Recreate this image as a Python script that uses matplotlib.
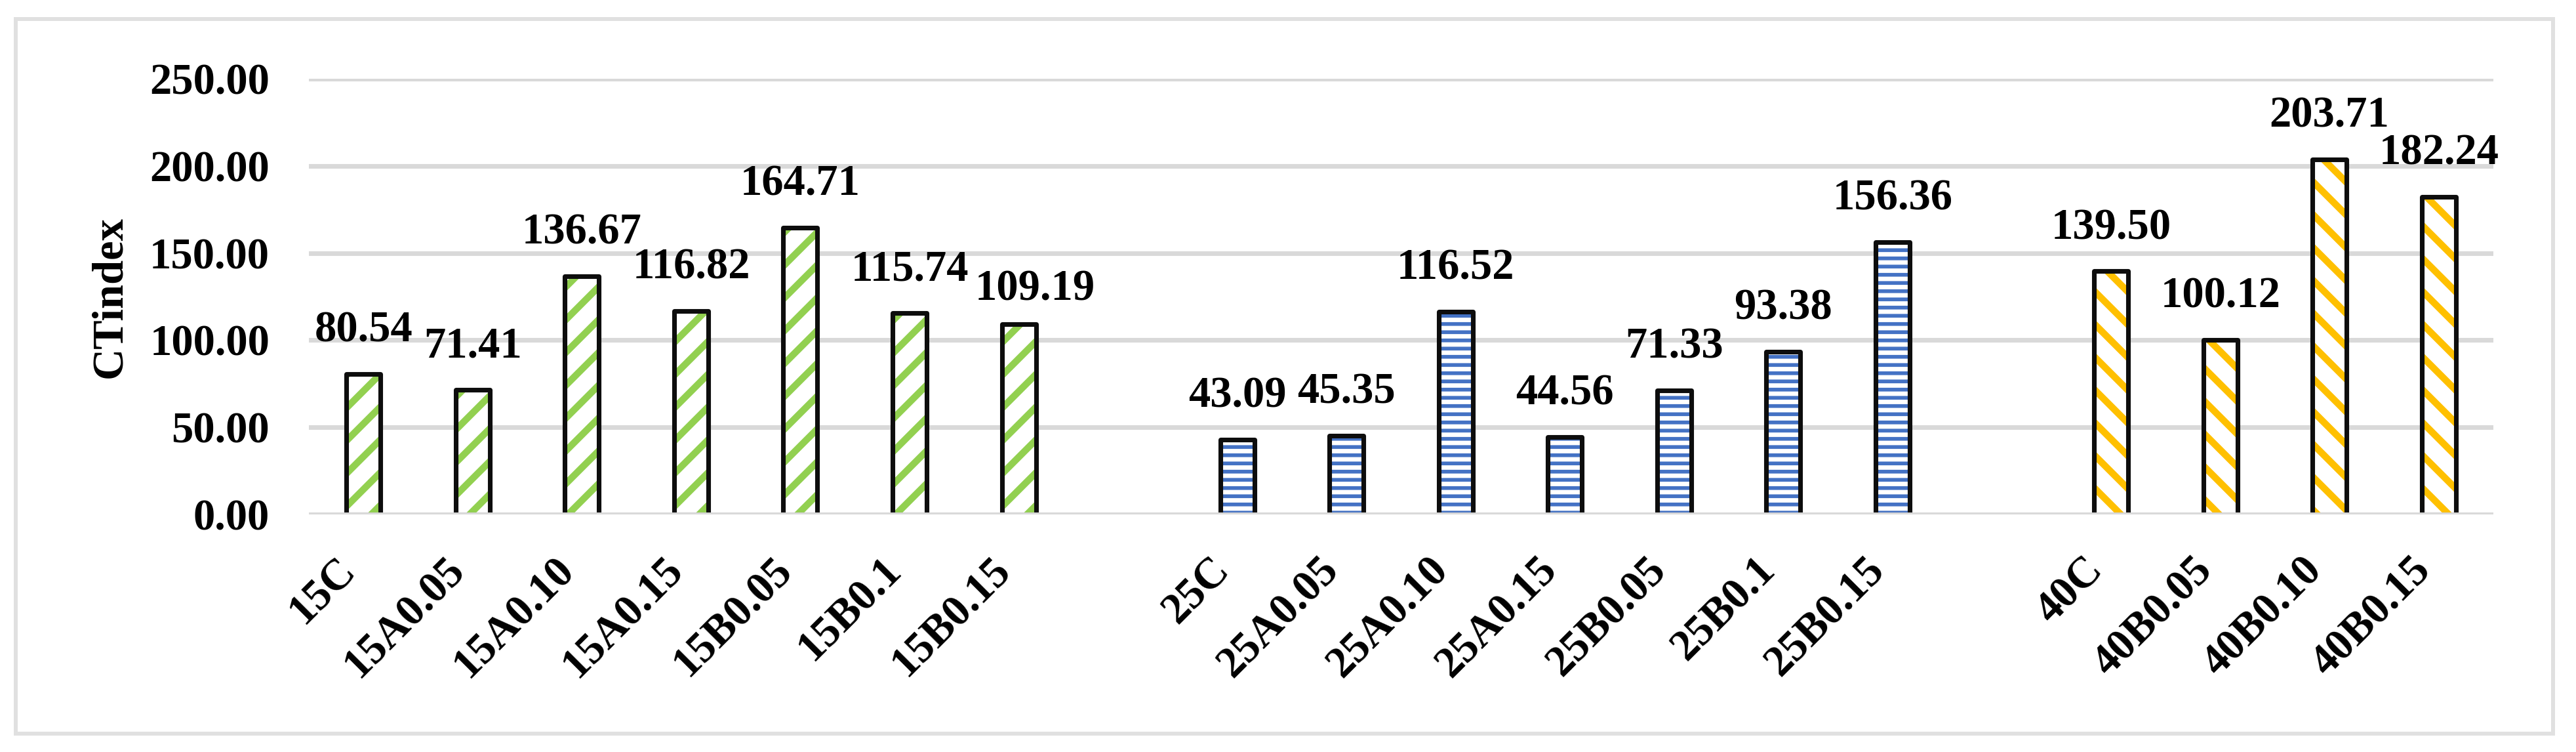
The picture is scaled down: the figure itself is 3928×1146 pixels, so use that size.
import matplotlib
matplotlib.use("Agg")
import matplotlib.pyplot as plt
from matplotlib.patches import Rectangle

# data (blank strings = empty gap slots)
labels = ["15C", "15A0.05", "15A0.10", "15A0.15", "15B0.05", "15B0.1", "15B0.15", "",
          "25C", "25A0.05", "25A0.10", "25A0.15", "25B0.05", "25B0.1", "25B0.15", "",
          "40C", "40B0.05", "40B0.10", "40B0.15"]
vals_15 = [80.54, 71.41, 136.67, 116.82, 164.71, 115.74, 109.19]
vals_25 = [43.09, 45.35, 116.52, 44.56, 71.33, 93.38, 156.36]
vals_40 = [139.50, 100.12, 203.71, 182.24]
yticks = [0, 50, 100, 150, 200, 250]

pos_15 = list(range(0, 7))
pos_25 = list(range(8, 15))
pos_40 = list(range(16, 20))

# excel moved this one label aside so it doesn't collide with its neighbour
nudge = {6: (6, -3)}

plt.rcParams['font.family'] = ['Liberation Serif', 'DejaVu Serif']
plt.rcParams['font.weight'] = 'bold'

DPI = 300
fig = plt.figure(figsize=(3928 / DPI, 1146 / DPI), dpi=DPI)
ax = fig.add_axes([471 / 3928, 1 - 784 / 1146, (3802 - 471) / 3928, (784 - 120) / 1146])

W = 0.312
groups = [
    (pos_15, vals_15, '#92D050', '//', 2.5),
    (pos_25, vals_25, '#4472C4', '----', 1.37),
    (pos_40, vals_40, '#FFC000', '\\\\', 2.5),
]
for pos, vals, col, hatch, hlw in groups:
    plt.rcParams['hatch.linewidth'] = hlw
    inner = ax.bar(pos, vals, W, color='white', edgecolor=col, hatch=hatch,
                   linewidth=0, zorder=2)
    for b in inner:
        if hasattr(b, 'set_hatch_linewidth'):
            b.set_hatch_linewidth(hlw)
    ax.bar(pos, vals, W, facecolor='none', edgecolor='#0D0D0D', linewidth=1.7,
           joinstyle='round', zorder=3)
    for p, v in zip(pos, vals):
        dx, dy = nudge.get(p, (0, 0))
        ax.annotate(f"{v:.2f}", (p, v), xytext=(dx, 8.5 + dy), textcoords='offset points',
                    ha='center', va='bottom', fontsize=16, fontweight='bold')

ax.set_xlim(-0.5, len(labels) - 0.5)
ax.set_ylim(0, 250)
ax.set_yticks(yticks)
ax.set_yticklabels([f"{t:.2f}" for t in yticks])
ax.set_xticks(range(len(labels)))
ax.set_xticklabels(labels, rotation=45, ha='right', va='top')
ax.tick_params(axis='both', length=0, labelsize=16)
ax.tick_params(axis='y', pad=14.4)
ax.tick_params(axis='x', pad=13)
for s in ax.spines.values():
    s.set_visible(False)
ax.grid(axis='y', color='#D9D9D9', linewidth=1.7, zorder=0)
ax.set_axisbelow(True)
ax.axhline(0, color='#D9D9D9', linewidth=1.7, zorder=5)

fig.text(168 / 3928, 1 - 453 / 1146, "CTindex", rotation=90, ha='center', va='center',
         fontsize=16, fontweight='bold')

fig.patches.append(Rectangle((24 / 3928, 1 - 1118 / 1146), (3893 - 24) / 3928,
                             (1118 - 29) / 1146, transform=fig.transFigure,
                             facecolor='none', edgecolor='#E0E0E0', linewidth=1.44))

fig.savefig("out.png", dpi=DPI)
